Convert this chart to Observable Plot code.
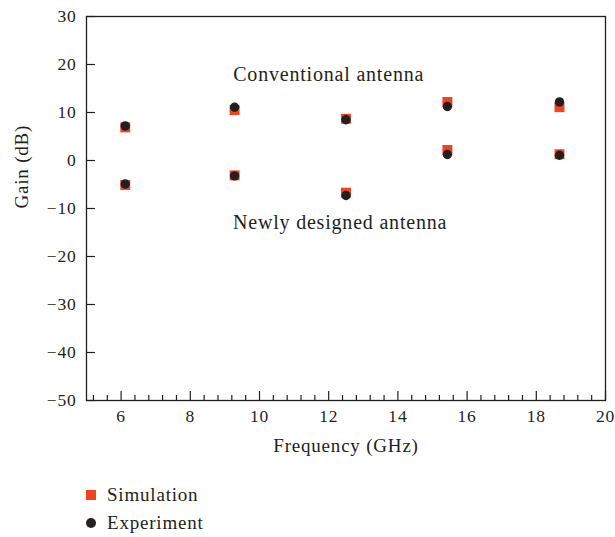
<!DOCTYPE html>
<html>
<head>
<meta charset="utf-8">
<script src="https://cdn.jsdelivr.net/npm/d3@7"></script>
<script src="https://cdn.jsdelivr.net/npm/@observablehq/plot@0.6"></script>
<style>
  html, body { margin: 0; padding: 0; background: #fff; }
  #chart { width: 615px; }
  #chart svg text { letter-spacing: 0.8px; }
  .legend { font-family: "Liberation Serif", serif; font-size: 19px; letter-spacing: 0.8px; color: #231f20; padding-left: 86px; }
  .row { display: flex; align-items: center; height: 28px; }
  .sw { width: 10px; height: 10px; margin-right: 11px; flex: none; }
</style>
</head>
<body>
<div id="chart"></div>
<script>
// Data
const freq = [6.12, 9.28, 12.5, 15.43, 18.67];
const simConventional = [6.9, 10.5, 8.7, 12.2, 11.1];
const expConventional = [7.2, 11.1, 8.5, 11.25, 12.2];
const simNew = [-5.1, -3.1, -6.7, 2.2, 1.3];
const expNew = [-4.9, -3.2, -7.3, 1.25, 1.1];

const xTicks = [6, 8, 10, 12, 14, 16, 18, 20];
const yTicks = [30, 20, 10, 0, -10, -20, -30, -40, -50];
const xMinorTicks = d3.range(13, 50).filter(i => i % 5 !== 0).map(i => +(i * 0.4).toFixed(1));

const xLabel = "Frequency (GHz)";
const yLabel = "Gain (dB)";

const annotations = [
  {x: 12.0, y: 17.9, text: "Conventional antenna"},
  {x: 12.33, y: -13.0, text: "Newly designed antenna"}
];

const seriesNames = ["Simulation", "Experiment"];
const colors = {Simulation: "#ee4423", Experiment: "#231f20"};

const sim = freq.flatMap((f, i) => [{f, g: simConventional[i]}, {f, g: simNew[i]}]);
const exp = freq.flatMap((f, i) => [{f, g: expConventional[i]}, {f, g: expNew[i]}]);

const ink = "#231f20";
const chart = Plot.plot({
  width: 615,
  height: 470,
  marginLeft: 86,
  marginRight: 10,
  marginTop: 16,
  marginBottom: 70,
  style: {fontFamily: "Liberation Serif, serif", fontSize: "17px", color: ink, background: "#fff"},
  x: {domain: [5, 20]},
  y: {domain: [-50, 30]},
  marks: [
    Plot.axisX(xTicks, {tickSize: -9, text: null, stroke: ink, strokeWidth: 1.2, label: null}),
    Plot.axisX(xMinorTicks, {tickSize: -5, text: null, stroke: ink, strokeWidth: 1.2, label: null}),
    Plot.axisX(xTicks, {tickSize: 0, tickPadding: 9, fill: ink, fontSize: 17.5, label: null}),
    Plot.axisY(yTicks, {tickSize: -9, text: null, stroke: ink, strokeWidth: 1.2, label: null}),
    Plot.axisY(yTicks, {tickSize: 0, tickPadding: 10, fill: ink, fontSize: 17.5, tickFormat: d => d < 0 ? "\u2212" + Math.abs(d) : String(d), label: null}),
    Plot.frame({stroke: ink, strokeWidth: 1.3}),
    Plot.text([xLabel], {frameAnchor: "bottom", dy: 51, text: d => d, fontSize: 19, fill: ink}),
    Plot.text([yLabel], {frameAnchor: "left", dx: -65, rotate: -90, text: d => d, fontSize: 19, fill: ink}),
    Plot.dot(sim, {x: "f", y: "g", symbol: "square", r: 5.6, fill: colors.Simulation, stroke: "none"}),
    Plot.dot(exp, {x: "f", y: "g", symbol: "circle", r: 4.7, fill: colors.Experiment, stroke: "none"}),
    Plot.text(annotations, {x: "x", y: "y", text: "text", fontSize: 20, fill: ink})
  ]
});
document.getElementById("chart").appendChild(chart);

const legend = document.createElement("div");
legend.className = "legend";
legend.style.paddingTop = "11px";
seriesNames.forEach(name => {
  const row = document.createElement("div");
  row.className = "row";
  const sw = document.createElement("span");
  sw.className = "sw";
  sw.style.background = colors[name];
  if (name === "Experiment") sw.style.borderRadius = "50%";
  const label = document.createElement("span");
  label.textContent = name;
  row.appendChild(sw);
  row.appendChild(label);
  legend.appendChild(row);
});
document.getElementById("chart").appendChild(legend);
</script>
</body>
</html>
